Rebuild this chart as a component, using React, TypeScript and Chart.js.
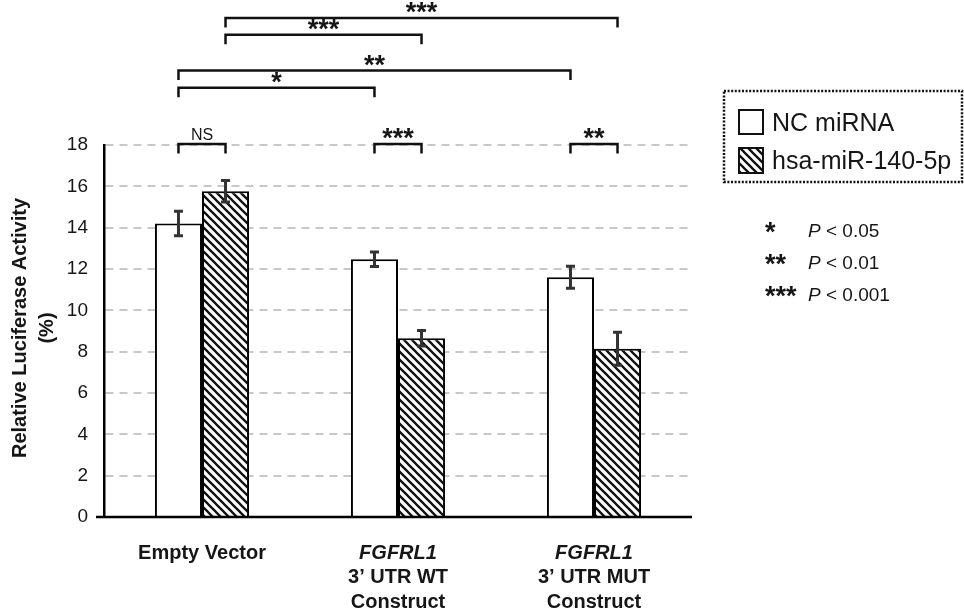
import React, { useEffect, useRef } from 'react';
import { Chart, registerables } from 'chart.js';

Chart.register(...registerables);

// ---------- data ----------
const categories = ['Empty Vector', 'FGFRL1 3’ UTR WT Construct', 'FGFRL1 3’ UTR MUT Construct'];
const categoryLines: string[][] = [
  ['Empty Vector'],
  ['FGFRL1', '3’ UTR WT', 'Construct'],
  ['FGFRL1', '3’ UTR MUT', 'Construct'],
];
const italicFirstLine = [false, true, true];

const seriesNames = ['NC miRNA', 'hsa-miR-140-5p'];
const ncValues = [14.2, 12.47, 11.6];
const ncErrors = [0.59, 0.35, 0.53];
const mirValues = [15.76, 8.65, 8.14];
const mirErrors = [0.52, 0.37, 0.8];

const yTicksMax = 18;
const yTickStep = 2;
const yTitleLines = ['Relative Luciferase Activity', '(%)'];

// significance brackets: [category, dataset] start/end, level in data units
const sigLabels = ['NS', '***', '**', '*', '**', '***', '***'];
const sigStart: number[][] = [[0, 0], [1, 0], [2, 0], [0, 0], [0, 0], [0, 1], [0, 1]];
const sigEnd: number[][] = [[0, 1], [1, 1], [2, 1], [1, 0], [2, 0], [1, 1], [2, 1]];
const sigLevel = [18.05, 18.05, 18.05, 20.77, 21.6, 23.33, 24.15];
const sigDrop = 0.46;

const pStars = ['*', '**', '***'];
const pThresholds = ['0.05', '0.01', '0.001'];

const FONT = '"Liberation Sans", Arial, Helvetica, sans-serif';
const TEXT = '#161616';

function makeHatch(ctx: CanvasRenderingContext2D) {
  const s = 8;
  const c = document.createElement('canvas');
  c.width = s;
  c.height = s;
  const g = c.getContext('2d')!;
  g.fillStyle = '#ffffff';
  g.fillRect(0, 0, s, s);
  g.strokeStyle = '#111111';
  g.lineWidth = 2.3;
  g.beginPath();
  g.moveTo(-1, -1);
  g.lineTo(s + 1, s + 1);
  g.moveTo(-1, s - 1);
  g.lineTo(1, s + 1);
  g.moveTo(s - 1, -1);
  g.lineTo(s + 1, 1);
  g.stroke();
  return ctx.createPattern(c, 'repeat') as CanvasPattern;
}

export default function App() {
  const ref = useRef<HTMLCanvasElement | null>(null);

  useEffect(() => {
    const canvas = ref.current!;
    const ctx0 = canvas.getContext('2d')!;
    const hatch = makeHatch(ctx0);

    const annot = {
      id: 'annot',
      afterDatasetsDraw(chart: any) {
        const ctx: CanvasRenderingContext2D = chart.ctx;
        const { left, right, top, bottom } = chart.chartArea;
        const ys = chart.scales.y;
        const xs = chart.scales.x;
        ctx.save();

        // baseline
        ctx.strokeStyle = '#000';
        ctx.lineWidth = 2.5;
        ctx.beginPath();
        ctx.moveTo(left - 8, bottom);
        ctx.lineTo(right, bottom);
        ctx.stroke();

        // error bars
        const vals = [ncValues, mirValues];
        const errs = [ncErrors, mirErrors];
        ctx.strokeStyle = '#333';
        ctx.lineWidth = 3;
        for (let d = 0; d < 2; d++) {
          const meta = chart.getDatasetMeta(d);
          meta.data.forEach((bar: any, i: number) => {
            const x = bar.x;
            const yHi = ys.getPixelForValue(vals[d][i] + errs[d][i]);
            const yLo = ys.getPixelForValue(vals[d][i] - errs[d][i]);
            ctx.beginPath();
            ctx.moveTo(x, yHi);
            ctx.lineTo(x, yLo);
            ctx.moveTo(x - 4.5, yHi);
            ctx.lineTo(x + 4.5, yHi);
            ctx.moveTo(x - 4.5, yLo);
            ctx.lineTo(x + 4.5, yLo);
            ctx.stroke();
          });
        }

        // brackets
        ctx.strokeStyle = '#111';
        ctx.lineWidth = 2.5;
        ctx.lineJoin = 'miter';
        ctx.fillStyle = TEXT;
        ctx.textAlign = 'center';
        ctx.textBaseline = 'alphabetic';
        sigLabels.forEach((lab, k) => {
          const b1 = chart.getDatasetMeta(sigStart[k][1]).data[sigStart[k][0]];
          const b2 = chart.getDatasetMeta(sigEnd[k][1]).data[sigEnd[k][0]];
          const x1 = b1.x;
          const x2 = b2.x;
          const y = ys.getPixelForValue(sigLevel[k]);
          const yd = ys.getPixelForValue(sigLevel[k] - sigDrop);
          ctx.beginPath();
          ctx.moveTo(x1, yd);
          ctx.lineTo(x1, y);
          ctx.lineTo(x2, y);
          ctx.lineTo(x2, yd);
          ctx.stroke();
          const cx = (x1 + x2) / 2;
          if (lab === 'NS') {
            ctx.font = `16px ${FONT}`;
            ctx.fillText(lab, cx, y - 3.5);
          } else {
            ctx.font = `bold 27px ${FONT}`;
            ctx.fillText(lab, cx, y + 3);
          }
        });

        // x category labels
        ctx.fillStyle = TEXT;
        ctx.textAlign = 'center';
        ctx.textBaseline = 'middle';
        categoryLines.forEach((lines, i) => {
          const x = xs.getPixelForValue(i);
          lines.forEach((t, j) => {
            const it = j === 0 && italicFirstLine[i];
            ctx.font = `${it ? 'italic ' : ''}bold 20px ${FONT}`;
            ctx.fillText(t, x, bottom + 36 + j * 24.5);
          });
        });

        // y title
        ctx.save();
        ctx.translate(0, (top + bottom) / 2 - 3);
        ctx.rotate(-Math.PI / 2);
        ctx.font = `bold 20px ${FONT}`;
        ctx.textAlign = 'center';
        ctx.textBaseline = 'middle';
        yTitleLines.forEach((t, j) => {
          ctx.fillText(t, 0, 20 + j * 27);
        });
        ctx.restore();

        // legend box
        ctx.save();
        ctx.strokeStyle = '#111';
        ctx.lineWidth = 2.5;
        ctx.setLineDash([2, 1.6]);
        ctx.strokeRect(724, 91, 238, 91);
        ctx.restore();

        ctx.lineWidth = 2;
        ctx.strokeStyle = '#111';
        ctx.fillStyle = '#fff';
        ctx.fillRect(739, 110, 24, 24);
        ctx.strokeRect(739, 110, 24, 24);
        ctx.fillStyle = hatch;
        ctx.fillRect(739, 148, 24, 25);
        ctx.strokeRect(739, 148, 24, 25);
        ctx.fillStyle = TEXT;
        ctx.textAlign = 'left';
        ctx.textBaseline = 'alphabetic';
        ctx.font = `25px ${FONT}`;
        ctx.fillText(seriesNames[0], 772, 131);
        ctx.fillText(seriesNames[1], 772, 169);

        // p-value key
        pStars.forEach((s, k) => {
          const cy = 230 + k * 32;
          ctx.font = `bold 27px ${FONT}`;
          ctx.fillText(s, 765, cy + 11);
          ctx.font = `italic 19px ${FONT}`;
          ctx.fillText('P', 808, cy + 7);
          const w = ctx.measureText('P').width;
          ctx.font = `19px ${FONT}`;
          ctx.fillText(' < ' + pThresholds[k], 808 + w, cy + 7);
        });

        ctx.restore();
      },
    };

    const chart = new Chart(canvas, {
      type: 'bar',
      data: {
        labels: categories,
        datasets: [
          {
            label: seriesNames[0],
            data: ncValues,
            backgroundColor: '#ffffff',
            borderColor: '#000000',
            borderWidth: 2,
            categoryPercentage: 0.48,
            barPercentage: 1,
          },
          {
            label: seriesNames[1],
            data: mirValues,
            backgroundColor: hatch,
            borderColor: '#000000',
            borderWidth: 2,
            categoryPercentage: 0.48,
            barPercentage: 1,
          },
        ],
      },
      options: {
        animation: false,
        responsive: true,
        maintainAspectRatio: false,
        layout: { padding: { top: 145, right: 272, left: 0, bottom: 0 } },
        plugins: {
          legend: { display: false },
          tooltip: { enabled: false },
        },
        scales: {
          x: {
            type: 'category',
            offset: true,
            grid: { display: false, drawTicks: false },
            border: { display: false },
            ticks: { display: false },
            afterFit: (s: any) => {
              s.height = 92;
            },
          },
          y: {
            min: 0,
            max: yTicksMax,
            ticks: {
              stepSize: yTickStep,
              padding: 16,
              color: TEXT,
              font: { size: 19, family: FONT },
            },
            grid: { color: '#c8c8c8', lineWidth: 2, drawTicks: false },
            border: { display: true, color: '#000', width: 2.5, dash: [8, 6] },
            afterFit: (s: any) => {
              s.width = 104;
            },
          },
        },
      },
      plugins: [annot],
    } as any);

    return () => chart.destroy();
  }, []);

  return (
    <div style={{ position: 'absolute', left: 0, top: 0, width: 964, height: 609, background: '#fff' }}>
      <canvas ref={ref} />
    </div>
  );
}
